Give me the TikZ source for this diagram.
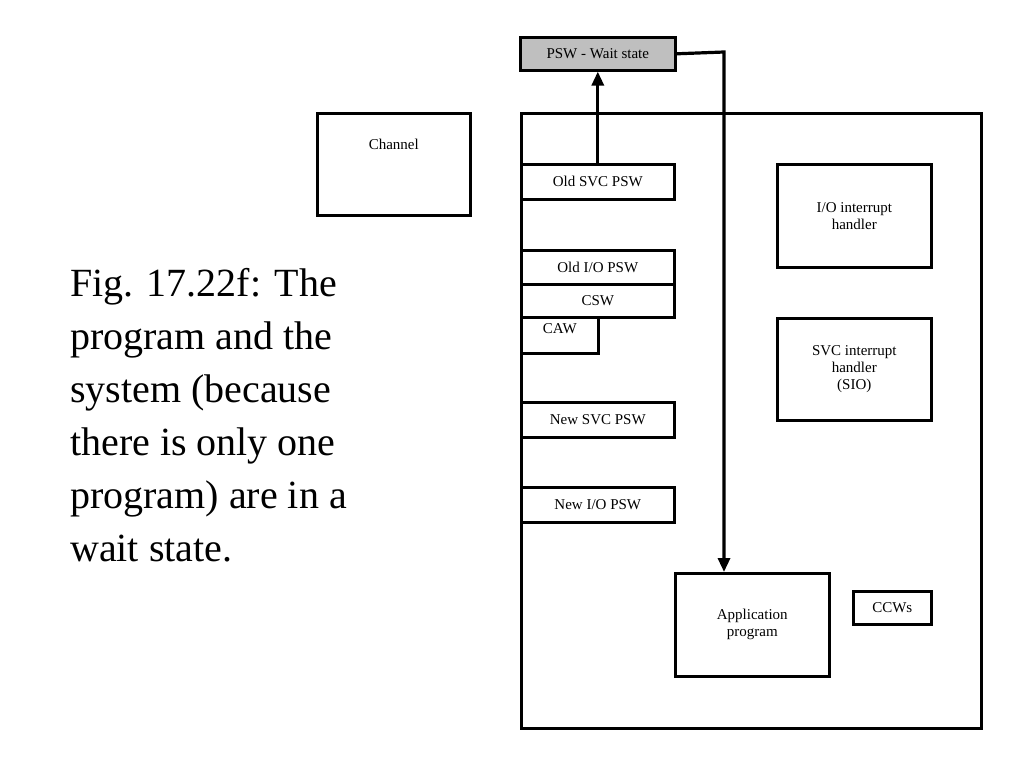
\documentclass[tikz,border=0pt]{standalone}
\usepackage{fontspec}
\setmainfont{Liberation Serif}
\usetikzlibrary{arrows.meta}
\begin{document}
\begin{tikzpicture}[x=1pt,y=-1pt,
  bx/.style={draw,line width=2.6pt,inner sep=0pt,font=\fontsize{15}{17}\selectfont,align=center},
  arr/.style={line width=3.2pt,-{Triangle[length=14pt,width=12pt]}}]
\useasboundingbox (0,0) rectangle (1024,768);
\def\B#1#2#3#4#5#6{\node[bx,minimum width=#4-#2,minimum height=#5-#3,anchor=north west] (#1) at (#2,#3) {#6};}
\node[bx,minimum width=460,minimum height=615,anchor=north west] (main) at (520,112) {};
\node[bx,fill=gray!50,minimum width=155,minimum height=33,anchor=north west] (psw) at (519,36) {PSW - Wait state};
\node[bx,minimum width=153,minimum height=102,anchor=north west,text depth=40pt] (chan) at (316,112) {Channel};
\B{osvc}{520}{163}{673}{198}{Old SVC PSW}
\B{oio}{520}{249}{673}{283}{Old I/O PSW}
\B{csw}{520}{283}{673}{316}{CSW}
\node[bx,minimum width=77,minimum height=36,anchor=north west,text depth=14pt] (caw) at (520,316) {CAW};
\B{nsvc}{520}{401}{673}{436}{New SVC PSW}
\B{nio}{520}{486}{673}{521}{New I/O PSW}
\B{ioh}{776}{163}{930}{266}{I/O interrupt\\handler}
\B{svch}{776}{317}{930}{419}{SVC interrupt\\handler\\(SIO)}
\B{app}{674}{572}{828}{675}{Application\\program}
\B{ccw}{852}{590}{930}{623}{CCWs}
\draw[arr] (osvc.north) -- (psw.south);
\coordinate (turn) at (724,52);
\draw[arr] (psw.east) -- (turn) -- (app.north -| turn);
\node[anchor=north west,align=left,font=\fontsize{40}{53}\selectfont,inner sep=0pt] (cap) at (70,268)
{Fig. 17.22f: The\\program and the\\system (because\\there is only one\\program) are in a\\wait state.};
\end{tikzpicture}
\end{document}
